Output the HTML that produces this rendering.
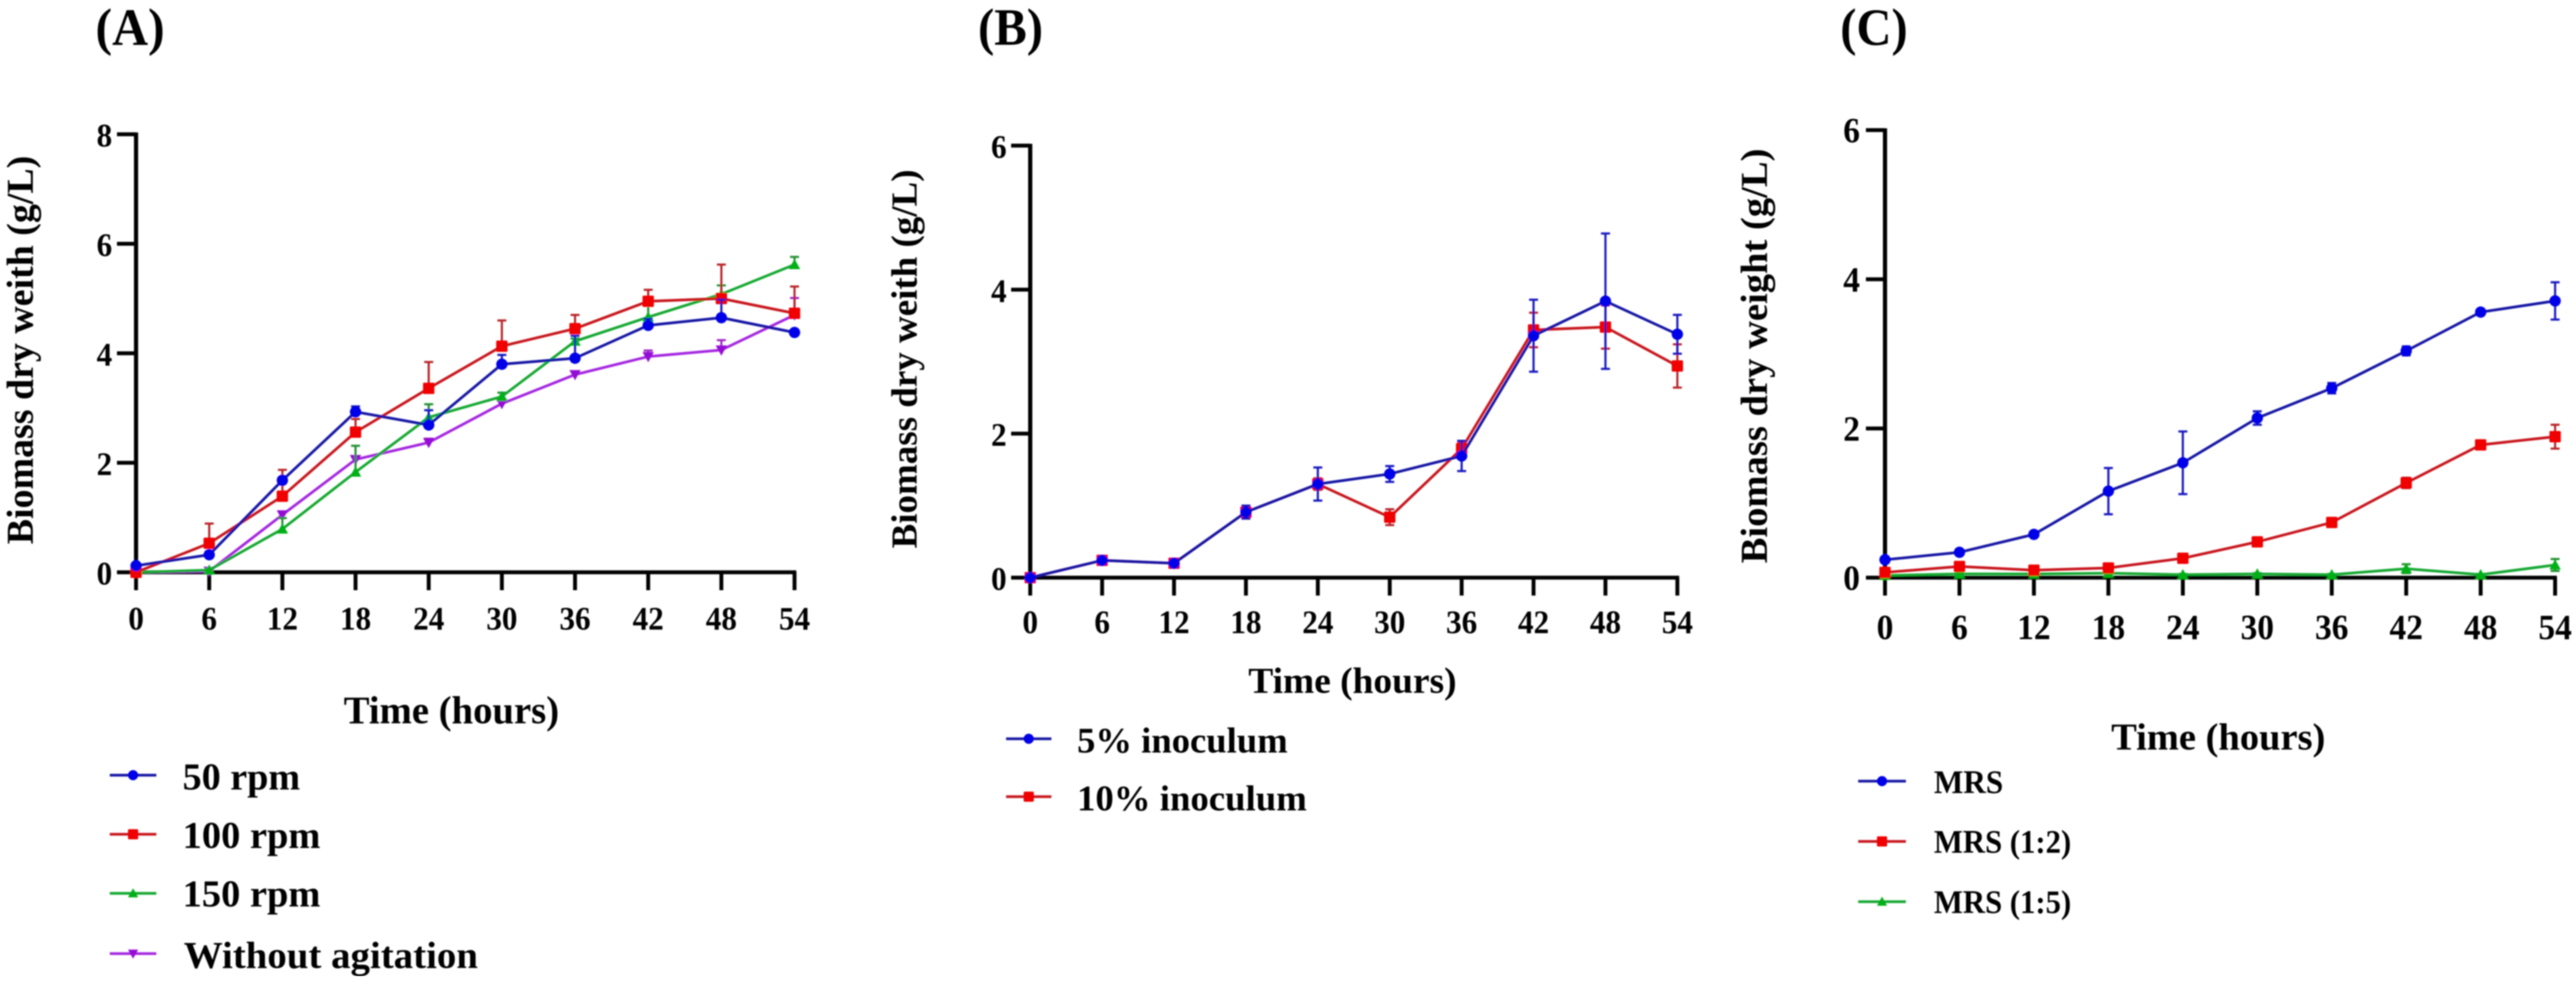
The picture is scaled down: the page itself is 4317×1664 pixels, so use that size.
<!DOCTYPE html>
<html lang="en">
<head>
<meta charset="utf-8">
<title>Biomass dry weight over time</title>
<style>
  html, body { margin: 0; padding: 0; background: #fff; }
  svg { display: block; }
  text { font-family: "Liberation Serif", "DejaVu Serif", serif; font-weight: bold; fill: #000; }
</style>
</head>
<body>
<svg id="figure" xmlns="http://www.w3.org/2000/svg" width="4317" height="1664" viewBox="0 0 4317 1664">
  <defs><filter id="soft" x="0" y="0" width="100%" height="100%"><feGaussianBlur stdDeviation="1"/></filter></defs>
  <rect width="4317" height="1664" fill="#fff"/>
  <g id="root" filter="url(#soft)">
    <text x="160" y="75" font-size="88" textLength="116" lengthAdjust="spacingAndGlyphs">(A)</text>
    <text x="1639" y="75" font-size="88" textLength="109" lengthAdjust="spacingAndGlyphs">(B)</text>
    <text x="3084" y="75" font-size="88" textLength="113" lengthAdjust="spacingAndGlyphs">(C)</text>

    <text transform="translate(55,912) rotate(-90)" font-size="63" textLength="651" lengthAdjust="spacingAndGlyphs">Biomass dry weith (g/L)</text>
    <text transform="translate(1536,919) rotate(-90)" font-size="61" textLength="635" lengthAdjust="spacingAndGlyphs">Biomass dry weith (g/L)</text>
    <text transform="translate(2961,944) rotate(-90)" font-size="63" textLength="695" lengthAdjust="spacingAndGlyphs">Biomass dry weight (g/L)</text>

    <text x="576" y="1212" font-size="66" textLength="361" lengthAdjust="spacingAndGlyphs">Time (hours)</text>
    <text x="2092" y="1161" font-size="61" textLength="349" lengthAdjust="spacingAndGlyphs">Time (hours)</text>
    <text x="3538" y="1256" font-size="63" textLength="359" lengthAdjust="spacingAndGlyphs">Time (hours)</text>

    <text x="306" y="1323" font-size="64" textLength="197" lengthAdjust="spacingAndGlyphs">50 rpm</text>
    <text x="306" y="1421" font-size="64" textLength="231" lengthAdjust="spacingAndGlyphs">100 rpm</text>
    <text x="306" y="1519" font-size="64" textLength="231" lengthAdjust="spacingAndGlyphs">150 rpm</text>
    <text x="308" y="1622" font-size="64" textLength="493" lengthAdjust="spacingAndGlyphs">Without agitation</text>

    <text x="1805" y="1261" font-size="60" textLength="353" lengthAdjust="spacingAndGlyphs">5% inoculum</text>
    <text x="1805" y="1358" font-size="60" textLength="385" lengthAdjust="spacingAndGlyphs">10% inoculum</text>

    <text x="3241" y="1329" font-size="55" textLength="116" lengthAdjust="spacingAndGlyphs">MRS</text>
    <text x="3241" y="1429" font-size="55" textLength="230" lengthAdjust="spacingAndGlyphs">MRS (1:2)</text>
    <text x="3241" y="1530" font-size="55" textLength="230" lengthAdjust="spacingAndGlyphs">MRS (1:5)</text>
  </g>
</svg>
<script>
// ---- shared categories ----
const timeHours = [0, 6, 12, 18, 24, 30, 36, 42, 48, 54];

// ---- panel A values ----
const yTicksA = [0, 2, 4, 6, 8];
const rpm50 = [0.12, 0.32, 1.68, 2.93, 2.69, 3.80, 3.91, 4.51, 4.65, 4.38];
const rpm50Err = [0.02, 0.05, 0.05, 0.10, 0.27, 0.17, 0.41, 0.12, 0.33, 0.03];
const rpm100 = [0, 0.53, 1.39, 2.56, 3.36, 4.13, 4.45, 4.95, 5.00, 4.73];
const rpm100Err = [0.02, 0.36, 0.48, 0.24, 0.48, 0.47, 0.25, 0.21, 0.62, 0.49];
const rpm150 = [0, 0.04, 0.79, 1.83, 2.83, 3.21, 4.22, 4.66, 5.08, 5.62];
const rpm150Err = [0.01, 0.02, 0.20, 0.48, 0.24, 0.07, 0.05, 0.21, 0.16, 0.14];
const noAgitation = [0, 0.02, 1.05, 2.06, 2.37, 3.08, 3.61, 3.94, 4.06, 4.70];
const noAgitationErr = [0.01, 0.02, 0.06, 0.05, 0.07, 0.05, 0.06, 0.11, 0.18, 0.31];

// ---- panel B values ----
const yTicksB = [0, 2, 4, 6];
const inoculum5 = [0, 0.24, 0.20, 0.91, 1.30, 1.44, 1.69, 3.36, 3.84, 3.38];
const inoculum5Err = [0.01, 0.03, 0.03, 0.09, 0.23, 0.11, 0.21, 0.50, 0.94, 0.27];
const inoculum10 = [0, 0.24, 0.20, 0.91, 1.30, 0.84, 1.79, 3.44, 3.48, 2.94];
const inoculum10Err = [0.01, 0.04, 0.04, 0.09, 0.08, 0.11, 0.09, 0.24, 0.30, 0.30];

// ---- panel C values ----
const yTicksC = [0, 2, 4, 6];
const mrsFull = [0.24, 0.34, 0.58, 1.16, 1.54, 2.14, 2.54, 3.04, 3.56, 3.71];
const mrsFullErr = [0.02, 0.03, 0.03, 0.31, 0.42, 0.09, 0.07, 0.06, 0.03, 0.25];
const mrsHalf = [0.07, 0.15, 0.10, 0.13, 0.26, 0.48, 0.74, 1.27, 1.78, 1.89];
const mrsHalfErr = [0.02, 0.03, 0.02, 0.02, 0.02, 0.03, 0.05, 0.07, 0.05, 0.16];
const mrsFifth = [0.03, 0.05, 0.05, 0.06, 0.04, 0.05, 0.04, 0.12, 0.04, 0.17];
const mrsFifthErr = [0.01, 0.01, 0.01, 0.01, 0.01, 0.01, 0.01, 0.06, 0.01, 0.08];

const NS = 'http://www.w3.org/2000/svg';
const root = document.getElementById('root');
const COLORS = {
  blue: { line: '#1212a4', mark: '#0000e8', err: '#1212c0' },
  red: { line: '#c8181f', mark: '#f00000', err: '#b82028' },
  green: { line: '#18a830', mark: '#00b018', err: '#209030' },
  purple: { line: '#a428e0', mark: '#9410d4', err: '#a028c8' }
};

function make(tag, parent, attrs) {
  const el = document.createElementNS(NS, tag);
  for (const k in attrs) el.setAttribute(k, attrs[k]);
  parent.appendChild(el);
  return el;
}

function drawMarker(parent, shape, cx, cy, r, fill) {
  let el;
  if (shape === 'circle') {
    el = make('circle', parent, { cx: cx, cy: cy, r: r, fill: fill });
  } else if (shape === 'square') {
    el = make('rect', parent, { x: cx - r, y: cy - r, width: 2 * r, height: 2 * r, rx: 2, fill: fill });
  } else if (shape === 'up') {
    el = make('polygon', parent, { points: [cx - r, cy + r * 0.8, cx + r, cy + r * 0.8, cx, cy - r].join(' '), fill: fill });
  } else {
    el = make('polygon', parent, { points: [cx - r, cy - r * 0.8, cx + r, cy - r * 0.8, cx, cy + r].join(' '), fill: fill });
  }
  
  
}

function drawPanel(p) {
  const sx = v => p.x0 + (v - timeHours[0]) / (timeHours[timeHours.length - 1] - timeHours[0]) * (p.x1 - p.x0);
  const sy = v => p.y0 - v / p.yMax * (p.y0 - p.y1);
  const g = make('g', root, {});
  
  

  // axes beneath the series
  const ay = make('line', g, { x1: p.x0, x2: p.x0, y1: p.y1 - 3, y2: p.y0 + 3, stroke: '#000', 'stroke-width': 7 });
  
  
  const ax = make('line', g, { x1: p.x0 - 3, x2: p.x1 + 3, y1: p.y0, y2: p.y0, stroke: '#000', 'stroke-width': 6.5 });
  
  

  p.yTicks.forEach(v => {
    const y = sy(v);
    const tick = make('line', g, { x1: p.x0 - 32, x2: p.x0, y1: y, y2: y, stroke: '#000', 'stroke-width': 6.5 });
    
    
    const t = make('text', g, {
      transform: 'translate(' + p.yLabelRight + ',' + (y + 20.5) + ') scale(' + p.tickSx + ',1)',
      'font-size': p.tickSize, 'text-anchor': 'end'
    });
    t.textContent = String(v);
    
    
  });
  timeHours.forEach(h => {
    const x = sx(h);
    const tick = make('line', g, { x1: x, x2: x, y1: p.y0, y2: p.y0 + 30, stroke: '#000', 'stroke-width': 6.5 });
    
    
    const t = make('text', g, {
      transform: 'translate(' + x + ',' + p.xLabelBase + ') scale(' + p.tickSx + ',1)',
      'font-size': p.tickSize, 'text-anchor': 'middle'
    });
    t.textContent = String(h);
    
    
  });

  // series, last-listed drawn first
  p.series.slice().reverse().forEach(s => {
    const c = COLORS[s.color];
    const sg = make('g', g, {});
    
    
    s.err.forEach((e, i) => {
      const x = sx(timeHours[i]);
      const top = sy(s.values[i] + e);
      const bot = p.bothErr ? sy(s.values[i] - e) : sy(s.values[i]);
      const eb = make('path', sg, {
        d: 'M' + x + ' ' + bot + 'V' + top + 'M' + (x - 7.5) + ' ' + top + 'H' + (x + 7.5) +
           (p.bothErr ? 'M' + (x - 7.5) + ' ' + bot + 'H' + (x + 7.5) : ''),
        stroke: c.err, 'stroke-width': 3.5, fill: 'none'
      });
      
      
    });
    const line = make('polyline', sg, {
      points: s.values.map((v, i) => sx(timeHours[i]) + ',' + sy(v)).join(' '),
      fill: 'none', stroke: c.line, 'stroke-width': 4.5, 'stroke-linejoin': 'round'
    });
    
    
    s.values.forEach((v, i) => drawMarker(sg, s.shape, sx(timeHours[i]), sy(v), 9.5, c.mark));
  });

  // legend keys
  p.series.forEach((s, i) => {
    const c = COLORS[s.color];
    const y = p.legendY[i];
    const key = make('g', g, {});
    
    
    make('line', key, { x1: p.legendX[0], x2: p.legendX[1], y1: y, y2: y, stroke: c.line, 'stroke-width': 4.5 });
    drawMarker(key, s.shape, (p.legendX[0] + p.legendX[1]) / 2, y, 8.5, c.mark);
  });
}

drawPanel({
  id: 'a', x0: 228, x1: 1331.5, y0: 959, y1: 225, yMax: 8, yTicks: yTicksA,
  yLabelRight: 188, xLabelBase: 1055, tickSize: 55, tickSx: 0.95, bothErr: false,
  legendX: [184, 262], legendY: [1299, 1398, 1497, 1598],
  series: [
    { name: '50-rpm', color: 'blue', shape: 'circle', values: rpm50, err: rpm50Err },
    { name: '100-rpm', color: 'red', shape: 'square', values: rpm100, err: rpm100Err },
    { name: '150-rpm', color: 'green', shape: 'up', values: rpm150, err: rpm150Err },
    { name: 'without-agitation', color: 'purple', shape: 'down', values: noAgitation, err: noAgitationErr }
  ]
});

drawPanel({
  id: 'b', x0: 1726.5, x1: 2811, y0: 968, y1: 244, yMax: 6, yTicks: yTicksB,
  yLabelRight: 1687, xLabelBase: 1061, tickSize: 55, tickSx: 0.95, bothErr: true,
  legendX: [1686, 1762], legendY: [1238, 1335],
  series: [
    { name: '5-percent-inoculum', color: 'blue', shape: 'circle', values: inoculum5, err: inoculum5Err },
    { name: '10-percent-inoculum', color: 'red', shape: 'square', values: inoculum10, err: inoculum10Err }
  ]
});

drawPanel({
  id: 'c', x0: 3159, x1: 4282, y0: 968, y1: 218, yMax: 6, yTicks: yTicksC,
  yLabelRight: 3117, xLabelBase: 1071, tickSize: 59, tickSx: 0.95, bothErr: true,
  legendX: [3114, 3194], legendY: [1309, 1410, 1511],
  series: [
    { name: 'mrs', color: 'blue', shape: 'circle', values: mrsFull, err: mrsFullErr },
    { name: 'mrs-1-2', color: 'red', shape: 'square', values: mrsHalf, err: mrsHalfErr },
    { name: 'mrs-1-5', color: 'green', shape: 'up', values: mrsFifth, err: mrsFifthErr }
  ]
});
</script>
</body>
</html>
